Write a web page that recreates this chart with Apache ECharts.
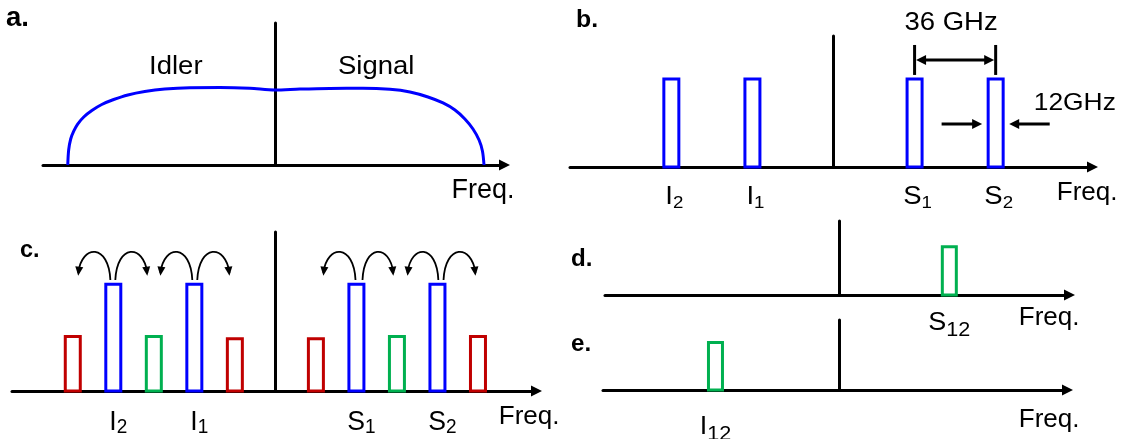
<!DOCTYPE html>
<html>
<head>
<meta charset="utf-8">
<script src="https://cdn.jsdelivr.net/npm/echarts@6/dist/echarts.min.js"></script>
<style>
  html, body { margin: 0; padding: 0; background: #ffffff; }
  #chart { width: 1134px; height: 439px; }
</style>
</head>
<body>
<div id="chart"></div>
<script>
// ---- data (frequency offsets from the pump in GHz, amplitudes normalised) ----

// a. parametric gain band
const gainFreq  = [-92.0, -91.6, -90.7, -89.3, -87.6, -84.9, -81.3, -76.9, -71.6, -65.3, -57.8, -48.9,
                   -37.8, -24.4, -11.1, 0, 11.1, 24.4, 39.1, 51.1, 60.0, 68.0, 74.7, 80.0, 84.4,
                   88.0, 90.7, 92.2, 92.9];
const gainLevel = [0, 0.157, 0.273, 0.357, 0.430, 0.504, 0.572, 0.635, 0.687, 0.735, 0.771, 0.797,
                   0.811, 0.813, 0.805, 0.787, 0.797, 0.804, 0.805, 0.794, 0.766, 0.714, 0.651, 0.577,
                   0.483, 0.378, 0.262, 0.147, 0];
const bandNames = ['Idler', 'Signal'];
const bandFreq  = [-44, 45];

// b. two signals and their idlers
const toneFreqB  = [-72, -36, 36, 72];
const toneLevelB = [1, 1, 1, 1];
const toneNamesB = [['I', '2'], ['I', '1'], ['S', '1'], ['S', '2']];
const spacingGHz = 36;
const filterGHz  = 12;

// c. cascaded four-wave-mixing products
const toneFreqC  = [-90, -72, -54, -36, -18, 18, 36, 54, 72, 90];
const toneLevelC = [0.51, 1, 0.51, 1, 0.49, 0.49, 1, 0.51, 1, 0.51];
const toneKindC  = ['outer', 'input', 'cross', 'input', 'outer', 'outer', 'input', 'cross', 'input', 'outer'];
const toneNamesC = [['I', '2'], ['I', '1'], ['S', '1'], ['S', '2']];
const namedFreqC = [-72, -36, 36, 72];
const hopStart   = [-73.3, -71.1, -36.9, -34.7, 35.6, 38.7, 72.4, 74.7];
const hopEnd     = [-87.6, -56.9, -51.1, -20.4, 21.3, 52.4, 58.7, 88.9];

// d. / e. filtered mixing products
const s12Freq = [49];
const s12Level = [0.45];
const i12Freq = [-55];
const i12Level = [0.44];

// ---- styling ----
const FONT  = 'Arial, "Liberation Sans", Helvetica, sans-serif';
const BLACK = '#000000';
const BLUE  = '#0000ff';
const RED   = '#c00000';
const GREEN = '#00b050';
const KIND_COLOR = { input: BLUE, outer: RED, cross: GREEN };

function arrowHead(tip, from, len, half, color) {
  const dx = tip[0] - from[0], dy = tip[1] - from[1];
  const d = Math.hypot(dx, dy) || 1;
  const ux = dx / d, uy = dy / d;
  const bx = tip[0] - ux * len, by = tip[1] - uy * len;
  return {
    type: 'polygon',
    shape: { points: [[tip[0], tip[1]], [bx - uy * half, by + ux * half], [bx + uy * half, by - ux * half]] },
    style: { fill: color }
  };
}

function freqAxis(gridIndex, min, max, gap, padTop, fontSize) {
  return {
    type: 'value', gridIndex, min, max,
    name: 'Freq.', nameLocation: 'end', nameGap: gap, nameMoveOverlap: false,
    nameTextStyle: { align: 'right', verticalAlign: 'top', padding: [padTop, 0, 0, 0],
                     fontSize, fontFamily: FONT, color: BLACK },
    axisLine: { show: true, onZero: true, symbol: ['none', 'triangle'], symbolSize: [11, 11],
                lineStyle: { color: BLACK, width: 3 } },
    axisTick: { show: false }, axisLabel: { show: false }, splitLine: { show: false }
  };
}

function levelAxis(gridIndex, max) {
  return {
    type: 'value', gridIndex, min: 0, max,
    axisLine: { show: true, onZero: true, lineStyle: { color: BLACK, width: 3 } },
    axisTick: { show: false }, axisLabel: { show: false }, splitLine: { show: false }
  };
}

function boxRenderer(colorOf, widthPx) {
  return function (params, api) {
    const top = api.coord([api.value(0), api.value(1)]);
    const base = api.coord([api.value(0), 0]);
    return {
      type: 'rect',
      shape: { x: top[0] - widthPx / 2, y: top[1], width: widthPx, height: base[1] - top[1] },
      style: { fill: null, stroke: colorOf(params.dataIndex), lineWidth: 3 }
    };
  };
}

function labelRenderer(names, o) {
  return function (params, api) {
    const p = api.coord([api.value(0), 0]);
    const n = names[params.dataIndex];
    return {
      type: 'text', x: p[0] + o.dx, y: p[1] + o.dy, scaleX: o.sx,
      style: {
        text: '{m|' + n[0] + '}{s|' + n[1] + '}',
        align: 'center', verticalAlign: 'top', fill: BLACK,
        rich: {
          m: { fontSize: o.main, fontFamily: FONT, fill: BLACK },
          s: { fontSize: o.sub, fontFamily: FONT, fill: BLACK, padding: [o.pad, 0, 0, 0] }
        }
      }
    };
  };
}

function plainText(text, x, y, size, sx, weight) {
  return {
    type: 'text', x, y, scaleX: sx,
    style: { text, fill: BLACK, font: (weight || 'normal') + ' ' + size + 'px ' + FONT,
             align: 'left', verticalAlign: 'top' }
  };
}

const option = {
  animation: false,
  backgroundColor: '#ffffff',
  grid: [
    { left: 43,  top: 23,  width: 461.5, height: 142, containLabel: false, outerBoundsMode: 'none' },
    { left: 570, top: 36,  width: 522.5, height: 131, containLabel: false, outerBoundsMode: 'none' },
    { left: 12,  top: 232, width: 524.5, height: 159, containLabel: false, outerBoundsMode: 'none' },
    { left: 605, top: 221, width: 464.5, height: 74,  containLabel: false, outerBoundsMode: 'none' },
    { left: 603, top: 320, width: 464.5, height: 70,  containLabel: false, outerBoundsMode: 'none' }
  ],
  xAxis: [
    freqAxis(0, -103, 102, 10, 12, 27),
    freqAxis(1, -117, 115, 25, 13, 26),
    freqAxis(2, -117, 116, 23, 13, 26),
    freqAxis(3, -104, 102.4, 10, 10, 26),
    freqAxis(4, -105, 101.5, 12, 17, 26)
  ],
  yAxis: [
    levelAxis(0, 1.49),
    levelAxis(1, 1.49),
    levelAxis(2, 1.49),
    levelAxis(3, 0.69),
    levelAxis(4, 0.65)
  ],
  graphic: [
    plainText('a.', 6, 5, 27, 1.02, 'bold'),
    plainText('b.', 576, 9, 23, 1.08, 'bold'),
    plainText('c.', 20, 239, 23, 1.02, 'bold'),
    plainText('d.', 571, 248, 23, 1.05, 'bold'),
    plainText('e.', 571, 333, 23, 1.05, 'bold')
  ],
  series: [
    // a. gain band
    {
      type: 'line', xAxisIndex: 0, yAxisIndex: 0,
      data: gainFreq.map((f, i) => [f, gainLevel[i]]),
      smooth: 0.3, symbol: 'none',
      lineStyle: { color: BLUE, width: 3 }, z: 3
    },
    {
      type: 'custom', xAxisIndex: 0, yAxisIndex: 0,
      data: bandFreq.map(f => [f, 1.04]),
      renderItem: function (params, api) {
        const p = api.coord([api.value(0), api.value(1)]);
        return {
          type: 'text', x: p[0], y: p[1] + 1, scaleX: 1.1,
          style: { text: bandNames[params.dataIndex], fill: BLACK, font: '25px ' + FONT,
                   align: 'center', verticalAlign: 'middle' }
        };
      }
    },
    // b. tones
    {
      type: 'custom', xAxisIndex: 1, yAxisIndex: 1,
      data: toneFreqB.map((f, i) => [f, toneLevelB[i]]),
      renderItem: boxRenderer(() => BLUE, 15)
    },
    {
      type: 'custom', xAxisIndex: 1, yAxisIndex: 1,
      data: toneFreqB.map(f => [f, 0]),
      renderItem: labelRenderer(toneNamesB, { dx: 3, dy: 16, sx: 1.1, main: 25, sub: 17, pad: 12 })
    },
    // b. spacing and filter-width annotations
    {
      type: 'custom', xAxisIndex: 1, yAxisIndex: 1,
      data: [[toneFreqB[2], toneFreqB[2] + spacingGHz]],
      renderItem: function (params, api) {
        const x0 = api.value(0), x1 = api.value(1);
        const t0 = api.coord([x0, 1.047]), t0u = api.coord([x0, 1.388]);
        const t1 = api.coord([x1, 1.047]), t1u = api.coord([x1, 1.388]);
        const a0 = api.coord([x0, 1.217]), a1 = api.coord([x1, 1.217]);
        const txt = api.coord([(x0 + x1) / 2, 1.638]);
        const half = filterGHz / 2;
        const fl = api.coord([x1 - half, 0.489]), flTail = api.coord([x1 - half - 18, 0.489]);
        const fr = api.coord([x1 + half, 0.489]), frTail = api.coord([x1 + half + 18, 0.489]);
        const ftxt = api.coord([x1 + half + 10.9, 0.722]);
        const ln = (a, b) => ({ type: 'line', shape: { x1: a[0], y1: a[1], x2: b[0], y2: b[1] },
                               style: { stroke: BLACK, lineWidth: 3 } });
        return {
          type: 'group',
          children: [
            ln(t0, t0u), ln(t1, t1u),
            ln([a0[0] + 6, a0[1]], [a1[0] - 6, a1[1]]),
            arrowHead([a0[0] + 1.5, a0[1]], a1, 10, 5, BLACK),
            arrowHead([a1[0] - 1.5, a1[1]], a0, 10, 5, BLACK),
            { type: 'text', x: txt[0] - 4, y: txt[1], scaleX: 1.1,
              style: { text: spacingGHz + ' GHz', fill: BLACK, font: '25px ' + FONT,
                       align: 'center', verticalAlign: 'middle' } },
            ln(flTail, [fl[0] - 6, fl[1]]), arrowHead(fl, flTail, 10, 5, BLACK),
            ln(frTail, [fr[0] + 6, fr[1]]), arrowHead(fr, frTail, 10, 5, BLACK),
            { type: 'text', x: ftxt[0], y: ftxt[1], scaleX: 1.1,
              style: { text: filterGHz + 'GHz', fill: BLACK, font: '24px ' + FONT,
                       align: 'left', verticalAlign: 'middle' } }
          ]
        };
      }
    },
    // c. tones
    {
      type: 'custom', xAxisIndex: 2, yAxisIndex: 2,
      data: toneFreqC.map((f, i) => [f, toneLevelC[i]]),
      renderItem: boxRenderer(i => KIND_COLOR[toneKindC[i]], 15)
    },
    {
      type: 'custom', xAxisIndex: 2, yAxisIndex: 2,
      data: namedFreqC.map(f => [f, 0]),
      renderItem: labelRenderer(toneNamesC, { dx: 5, dy: 17, sx: 0.95, main: 28, sub: 20, pad: 9 })
    },
    // c. energy hops between neighbouring tones
    {
      type: 'custom', xAxisIndex: 2, yAxisIndex: 2,
      data: hopStart.map((s, i) => [s, hopEnd[i]]),
      renderItem: function (params, api) {
        const p0 = api.coord([api.value(0), 1.04]);
        const p3 = api.coord([api.value(1), 1.08]);
        const yc = api.coord([0, 1.38])[1];
        const dx = p3[0] - p0[0];
        const c1 = [p0[0] + 0.05 * dx, yc];
        const c2 = [p3[0] - 0.12 * dx, yc];
        return {
          type: 'group',
          children: [
            { type: 'bezierCurve',
              shape: { x1: p0[0], y1: p0[1], cpx1: c1[0], cpy1: c1[1], cpx2: c2[0], cpy2: c2[1],
                       x2: p3[0], y2: p3[1] - 3 },
              style: { stroke: BLACK, lineWidth: 1.8, fill: null } },
            arrowHead(p3, c2, 9, 4, BLACK)
          ]
        };
      }
    },
    // d.
    {
      type: 'custom', xAxisIndex: 3, yAxisIndex: 3,
      data: s12Freq.map((f, i) => [f, s12Level[i]]),
      renderItem: boxRenderer(() => GREEN, 14)
    },
    {
      type: 'custom', xAxisIndex: 3, yAxisIndex: 3,
      data: s12Freq.map(f => [f, 0]),
      renderItem: labelRenderer([['S', '12']], { dx: 0, dy: 12, sx: 1.08, main: 25, sub: 20, pad: 13 })
    },
    // e.
    {
      type: 'custom', xAxisIndex: 4, yAxisIndex: 4,
      data: i12Freq.map((f, i) => [f, i12Level[i]]),
      renderItem: boxRenderer(() => GREEN, 14)
    },
    {
      type: 'custom', xAxisIndex: 4, yAxisIndex: 4,
      data: i12Freq.map(f => [f, 0]),
      renderItem: labelRenderer([['I', '12']], { dx: 0, dy: 21, sx: 1.08, main: 25, sub: 20, pad: 13 })
    }
  ]
};

const chart = echarts.init(document.getElementById('chart'), null, { renderer: 'canvas' });
chart.setOption(option);
</script>
</body>
</html>
